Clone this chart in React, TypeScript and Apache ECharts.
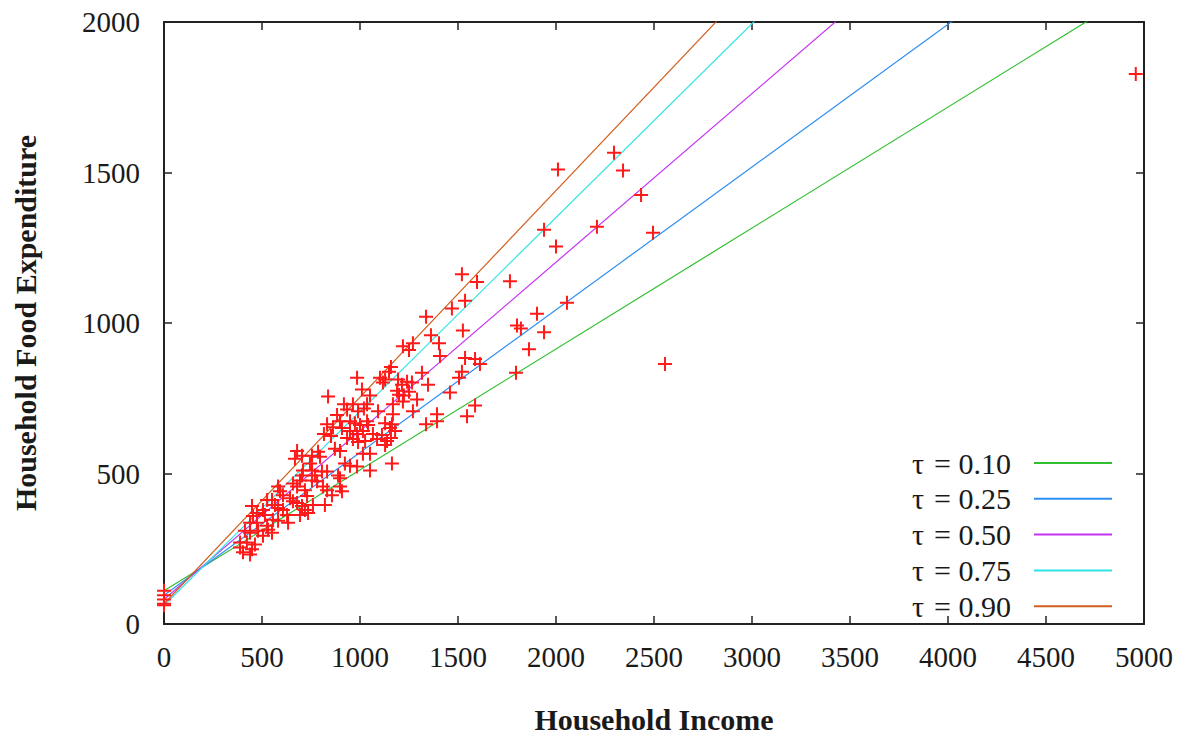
import React, { useEffect, useRef } from "react";
import * as echarts from "echarts";

const xTicks = [0, 500, 1000, 1500, 2000, 2500, 3000, 3500, 4000, 4500, 5000];
const yTicks = [0, 500, 1000, 1500, 2000];

const taus = ["0.10", "0.25", "0.50", "0.75", "0.90"];
const intercepts = [110.1, 95.5, 81.5, 62.4, 67.4];
const slopes = [0.4018, 0.4742, 0.5602, 0.644, 0.6863];
const lineColors = ["#2fbf2f", "#2f8ff2", "#c533f2", "#2fe3e3", "#d0601f"];

// Observed household income
const income = [
  4958, 2556, 2010, 2296, 2342, 2434, 2495, 2209, 1939, 2000, 2056, 1765, 1903, 1939, 1801, 1821, 1862, 1796,
  1520, 1597, 1536, 1469, 1337, 1525, 1362, 1403, 1408, 1536, 1587, 1612, 1520, 1505, 1459, 1587, 1546, 1393,
  1393, 1337, 1219, 1250, 1270, 1158, 1148, 1102, 1128, 1117, 985, 1316, 1194, 1214, 1240, 1265, 1347, 1189,
  1199, 1224, 1250, 1291, 1219, 1270, 1168, 1128, 1163, 1153, 1179, 1112, 1138, 1128, 1158, 1163, 837, 1010,
  1051, 918, 934, 964, 990, 1020, 1036, 1092, 1168, 883, 898, 832, 862, 908, 949, 974, 1000, 1036, 1041, 1066,
  949, 985, 1015, 1087, 816, 852, 934, 964, 990, 1026, 679, 704, 668, 872, 898, 786, 796, 755, 1015, 1051, 923,
  949, 985, 745, 755, 709, 704, 806, 832, 888, 898, 1051, 770, 755, 781, 694, 658, 679, 811, 832, 898, 908, 582,
  592, 607, 719, 730, 857, 821, 719, 643, 658, 526, 551, 566, 582, 607, 679, 704, 760, 505, 515, 628, 735, 449,
  474, 454, 694, 556, 582, 439, 474, 633, 526, 531, 551, 480, 505, 413, 439, 388, 423, 464, 449, 403, 388, 439,
];

// Observed household food expenditure
const food = [
  1827, 864, 1510, 1566, 1507, 1425, 1300, 1320, 1310, 1254, 1067, 1139, 1031, 969, 992, 982, 913, 835, 1162,
  1136, 1074, 1048, 1021, 975, 959, 933, 890, 884, 880, 864, 838, 818, 769, 726, 690, 697, 674, 664, 923, 910,
  933, 854, 838, 818, 812, 802, 818, 835, 812, 795, 805, 802, 795, 775, 762, 759, 772, 746, 739, 707, 697, 667,
  664, 651, 641, 628, 608, 595, 618, 533, 756, 779, 759, 730, 713, 730, 707, 716, 730, 707, 730, 694, 674, 664,
  654, 651, 674, 667, 661, 674, 661, 631, 641, 631, 641, 615, 631, 625, 618, 615, 605, 608, 575, 559, 549, 582,
  575, 572, 556, 559, 566, 566, 533, 526, 523, 533, 510, 510, 493, 507, 507, 493, 484, 510, 493, 477, 474, 477,
  467, 457, 457, 444, 457, 441, 457, 441, 428, 444, 425, 428, 395, 379, 418, 408, 412, 412, 395, 385, 379, 402,
  392, 395, 379, 362, 362, 369, 392, 369, 359, 362, 346, 343, 336, 336, 336, 326, 313, 303, 310, 293, 310, 303,
  271, 271, 264, 248, 238, 254, 231,
];

export default function App() {
  const ref = useRef<HTMLDivElement>(null);

  useEffect(() => {
    document.body.style.margin = "0";
    const chart = echarts.init(ref.current!, null, { renderer: "svg" });
    const font = "Liberation Serif";
    const textColor = "#1a1a1a";
    const axisColor = "#222";

    const points: number[][] = income.map((x, i) => [x, food[i]]);
    intercepts.forEach((a) => points.push([0, a]));

    const lineSeries = taus.map((t, i) => ({
      name: "\u03c4 = " + t,
      type: "line",
      data: [
        [0, intercepts[i]],
        [5000, intercepts[i] + slopes[i] * 5000],
      ],
      showSymbol: false,
      symbol: "none",
      clip: true,
      lineStyle: { color: lineColors[i], width: 1.2 },
      itemStyle: { color: lineColors[i] },
      z: 3,
    }));

    const baseX = {
      type: "value",
      min: xTicks[0],
      max: xTicks[xTicks.length - 1],
      interval: 500,
      splitLine: { show: false },
      axisLine: { show: true, onZero: false, lineStyle: { color: axisColor, width: 2 } },
      axisTick: { show: true, inside: true, length: 8, lineStyle: { color: axisColor, width: 1.5 } },
    };
    const baseY = {
      type: "value",
      min: yTicks[0],
      max: yTicks[yTicks.length - 1],
      interval: 500,
      splitLine: { show: false },
      axisLine: { show: true, onZero: false, lineStyle: { color: axisColor, width: 2 } },
      axisTick: { show: true, inside: true, length: 8, lineStyle: { color: axisColor, width: 1.5 } },
    };

    chart.setOption({
      animation: false,
      backgroundColor: "#ffffff",
      grid: { left: 164, right: 41, top: 22, bottom: 106, containLabel: false },
      legend: {
        data: taus.map((t) => "\u03c4 = " + t),
        orient: "vertical",
        right: 68,
        top: 442,
        align: "right",
        icon: "rect",
        itemWidth: 78,
        itemHeight: 2,
        itemGap: 3.8,
        textStyle: {
          fontFamily: font,
          fontSize: 30,
          color: textColor,
          lineHeight: 32,
          padding: [0, 18, 0, 0],
        },
        formatter: (name: string) => name.replace("\u03c4 =", "\u03c4\u200a ="),
        selectedMode: false,
      },
      xAxis: [
        {
          ...baseX,
          position: "bottom",
          name: "Household Income",
          nameLocation: "middle",
          nameGap: 80,
          nameTextStyle: { fontFamily: font, fontSize: 30, fontWeight: "bold", color: textColor },
          axisLabel: {
            fontFamily: font,
            fontSize: 29,
            color: textColor,
            margin: 18,
            formatter: (v: number) => String(v),
          },
        },
        {
          ...baseX,
          position: "top",
          axisLabel: { show: false },
        },
      ],
      yAxis: [
        {
          ...baseY,
          position: "left",
          name: "Household Food Expenditure",
          nameLocation: "middle",
          nameRotate: 90,
          nameGap: 124,
          nameTextStyle: { fontFamily: font, fontSize: 30, fontWeight: "bold", color: textColor },
          axisLabel: {
            fontFamily: font,
            fontSize: 29,
            color: textColor,
            margin: 24,
            formatter: (v: number) => String(v),
          },
        },
        {
          ...baseY,
          position: "right",
          axisLabel: { show: false },
        },
      ],
      series: [
        ...lineSeries,
        {
          name: "data",
          type: "scatter",
          data: points,
          symbol: "path://M6,0H8V6H14V8H8V14H6V8H0V6H6Z",
          symbolSize: 14,
          itemStyle: { color: "#ff1a1a", opacity: 1 },
          z: 4,
        },
      ],
    });

    return () => chart.dispose();
  }, []);

  return <div ref={ref} style={{ width: 1185, height: 739 }} />;
}
